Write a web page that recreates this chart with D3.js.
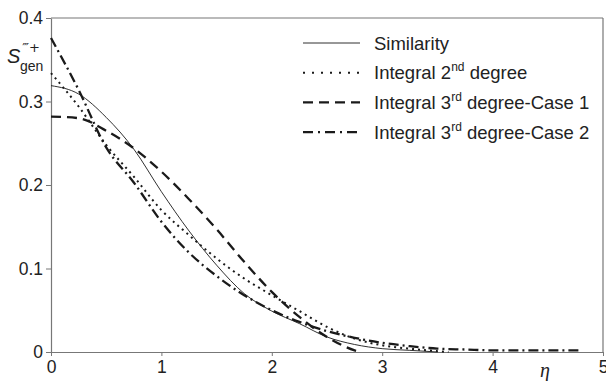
<!DOCTYPE html>
<html>
<head>
<meta charset="utf-8">
<script src="https://cdn.jsdelivr.net/npm/d3@7"></script>
<style>
  body { margin: 0; background: #fff; }
  svg { display: block; font-family: "Liberation Sans", Arial, sans-serif; }
</style>
</head>
<body>
<svg id="chart" width="606" height="381"></svg>
<script>
// eta values and S''' gen for each curve
const etaSim = [0, 0.25, 0.5, 0.75, 1.0, 1.25, 1.5, 1.75, 2.0, 2.25, 2.5, 2.75, 3.0, 3.25, 3.5];
const similarity = [0.319, 0.309, 0.281, 0.243, 0.192, 0.145, 0.104, 0.07, 0.049, 0.034, 0.018, 0.009, 0.004, 0.002, 0];

const etaDeg2 = [0, 0.25, 0.5, 0.75, 1.0, 1.25, 1.5, 1.75, 2.0, 2.25, 2.5, 2.75, 3.0, 3.25, 3.5, 3.6];
const integral2 = [0.334, 0.294, 0.248, 0.21, 0.17, 0.14, 0.112, 0.088, 0.068, 0.049, 0.03, 0.016, 0.008, 0.004, 0.001, 0];

const etaCase1 = [0, 0.25, 0.5, 0.75, 1.0, 1.25, 1.5, 1.75, 2.0, 2.25, 2.5, 2.75, 2.8];
const integral3Case1 = [0.282, 0.28, 0.265, 0.244, 0.216, 0.183, 0.147, 0.108, 0.072, 0.042, 0.018, 0.002, 0];

const etaCase2 = [0, 0.25, 0.5, 0.75, 1.0, 1.25, 1.5, 1.75, 2.0, 2.25, 2.5, 2.75, 3.0, 3.25, 3.5, 3.75, 4.0, 4.5, 4.8];
const integral3Case2 = [0.376, 0.314, 0.245, 0.203, 0.156, 0.119, 0.091, 0.068, 0.05, 0.036, 0.025, 0.017, 0.011, 0.007, 0.004, 0.003, 0.002, 0.002, 0.002];

const xTicks = [0, 1, 2, 3, 4, 5];
const yTicks = [0, 0.1, 0.2, 0.3, 0.4];

const series = [
  { name: 'Similarity', sup: '', tail: '', eta: etaSim, vals: similarity, width: 0.9, dash: null, legendDash: null },
  { name: 'Integral 2', sup: 'nd', tail: ' degree', eta: etaDeg2, vals: integral2, width: 2, dash: '2,4', legendDash: '2,7' },
  { name: 'Integral 3', sup: 'rd', tail: ' degree-Case 1', eta: etaCase1, vals: integral3Case1, width: 2.3, dash: '10,6', legendDash: '10,6' },
  { name: 'Integral 3', sup: 'rd', tail: ' degree-Case 2', eta: etaCase2, vals: integral3Case2, width: 2.3, dash: '10,4,2,4', legendDash: '10,5,2,5' }
];

const svg = d3.select('#chart');
const axisColor = '#777';

const x = d3.scaleLinear().domain([0, 5]).range([51, 603]);
const y = d3.scaleLinear().domain([0, 0.4]).range([352, 18]);

// frame top + right
svg.append('line')
  .attr('x1', x(0)).attr('x2', x(5))
  .attr('y1', y(0.4)).attr('y2', y(0.4))
  .attr('stroke', axisColor).attr('stroke-width', 1.2);
svg.append('line')
  .attr('x1', x(5)).attr('x2', x(5))
  .attr('y1', y(0.4)).attr('y2', y(0))
  .attr('stroke', axisColor).attr('stroke-width', 1.2);

const yAxis = svg.append('g')
  .attr('transform', `translate(${x(0)},0)`)
  .call(d3.axisLeft(y).tickValues(yTicks).tickFormat(d => d === 0 ? '0' : d3.format('.1f')(d))
    .tickSize(5).tickSizeOuter(0).tickPadding(3));

const xAxis = svg.append('g')
  .attr('transform', `translate(0,${y(0)})`)
  .call(d3.axisBottom(x).tickValues(xTicks).tickFormat(d3.format('d'))
    .tickSize(4).tickSizeOuter(0).tickPadding(5));

[yAxis, xAxis].forEach(g => {
  g.select('.domain').attr('stroke', axisColor).attr('stroke-width', 1.2);
  g.selectAll('.tick line').attr('stroke', axisColor);
  g.selectAll('.tick text').attr('fill', '#222').style('font-size', '17.5px')
    .style('font-family', '"Liberation Sans", Arial, sans-serif');
});

// curves
const line = d3.line()
  .x(d => x(d[0]))
  .y(d => y(d[1]))
  .curve(d3.curveMonotoneX);

series.forEach(s => {
  svg.append('path')
    .datum(s.eta.map((e, i) => [e, s.vals[i]]))
    .attr('d', line)
    .attr('fill', 'none')
    .attr('stroke', '#1a1a1a')
    .attr('stroke-width', s.width)
    .attr('stroke-dasharray', s.dash);
});

// legend
const legend = svg.append('g');
series.forEach((s, i) => {
  const ly = 43 + i * 29.7;
  legend.append('line')
    .attr('x1', 303).attr('x2', 360)
    .attr('y1', ly).attr('y2', ly)
    .attr('stroke', '#1a1a1a')
    .attr('stroke-width', s.width)
    .attr('stroke-dasharray', s.legendDash);
  const t = legend.append('text')
    .attr('x', 374).attr('y', ly + 6.5)
    .attr('fill', '#222')
    .style('font-size', '18.5px');
  t.append('tspan').text(s.name);
  if (s.sup) {
    t.append('tspan').text(s.sup).attr('dy', -8).style('font-size', '12px');
    t.append('tspan').text(s.tail).attr('dy', 8);
  }
});

// y-axis label S'''+ gen
const yl = svg.append('text')
  .attr('x', 7).attr('y', 63)
  .attr('fill', '#222')
  .style('font-size', '20px');
yl.append('tspan').text('S').style('font-style', 'italic');
yl.append('tspan').text('\u2034+').attr('dy', -11).attr('dx', 2)
  .style('font-size', '13px').style('font-family', '"DejaVu Sans", sans-serif');
svg.append('text')
  .attr('x', 20).attr('y', 71)
  .attr('fill', '#222')
  .style('font-size', '14px')
  .text('gen');

// x-axis label eta
svg.append('text')
  .attr('x', 540).attr('y', 377)
  .attr('fill', '#222')
  .style('font-family', '"Liberation Serif", "Times New Roman", serif')
  .style('font-style', 'italic')
  .style('font-size', '20px')
  .text('\u03b7');
</script>
</body>
</html>
